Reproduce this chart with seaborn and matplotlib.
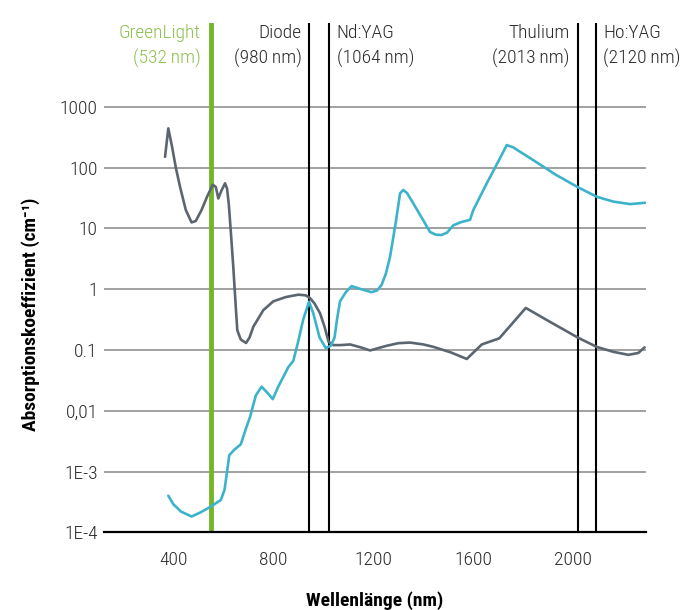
import matplotlib
matplotlib.use("Agg")
import matplotlib.pyplot as plt
import matplotlib.transforms as mtransforms
from matplotlib import font_manager
import seaborn as sns
import pandas as pd

# ---------------- data ----------------
gray_nm = [367, 380, 395, 410, 427, 450, 473, 490, 513, 535, 558, 570, 580, 593, 607,
           615, 622, 630, 640, 650, 656, 670, 691, 705, 720, 760, 800, 850, 900, 930,
           947, 965, 987, 1005, 1021, 1040, 1070, 1107, 1150, 1187, 1220, 1254, 1300,
           1347, 1400, 1441, 1510, 1574, 1634, 1704, 1810, 1900, 2020, 2094, 2160,
           2220, 2260, 2285]
gray_val = [150, 440, 220, 100, 48, 20, 12.5, 13.2, 20, 33, 52, 48, 31, 42, 55,
            45, 25, 8.9, 2.3, 0.5, 0.21, 0.148, 0.13, 0.16, 0.24, 0.45, 0.63, 0.74, 0.81, 0.79,
            0.71, 0.58, 0.40, 0.24, 0.136, 0.12, 0.12, 0.123, 0.11, 0.098, 0.107, 0.117, 0.129,
            0.132, 0.123, 0.112, 0.091, 0.071, 0.123, 0.155, 0.49, 0.30, 0.158, 0.112, 0.093,
            0.083, 0.089, 0.11]

cyan_nm = [380, 400, 430, 473, 510, 547, 590, 605, 624, 645, 670, 690, 707, 730, 753,
           775, 798, 820, 840, 860, 880, 900, 920, 943, 960, 985, 1010, 1030, 1045, 1055,
           1067, 1090, 1113, 1150, 1193, 1215, 1233, 1250, 1267, 1290, 1307, 1320, 1335,
           1360, 1400, 1427, 1450, 1473, 1495, 1520, 1550, 1587, 1600, 1654, 1700, 1734,
           1760, 1840, 1930, 2020, 2094, 2160, 2227, 2287]
cyan_val = [4.0e-4, 2.9e-4, 2.2e-4, 1.82e-4, 2.14e-4, 2.6e-4, 3.4e-4, 5.0e-4, 1.86e-3, 2.3e-3,
            2.8e-3, 5.0e-3, 7.9e-3, 0.0178, 0.0248, 0.020, 0.0155, 0.025, 0.036, 0.052,
            0.066, 0.14, 0.32, 0.62, 0.40, 0.16, 0.107, 0.117, 0.16, 0.32,
            0.63, 0.89, 1.12, 1.0, 0.89, 0.95, 1.17, 1.78, 3.4, 12.6,
            37.6, 42.7, 38, 25.7, 13.5, 8.7, 7.85, 7.76, 8.5, 11.2,
            12.6, 13.8, 20, 55, 126, 234, 214, 132, 76, 47,
            33, 27.5, 25, 26.3]

laser_names = ["GreenLight", "Diode", "Nd:YAG", "Thulium", "Ho:YAG"]
laser_labels = ["(532\u2009nm)", "(980\u2009nm)", "(1064\u2009nm)", "(2013\u2009nm)", "(2120\u2009nm)"]
laser_pos = [550, 944, 1024, 2020, 2091]

x_ticks = [400, 800, 1200, 1600, 2000]
y_ticks = [1e-4, 1e-3, 1e-2, 1e-1, 1, 10, 100, 1000]
y_tick_labels = ["1E-4", "1E-3", "0,01", "0.1", "1", "10", "100", "1000"]

# ---------------- style ----------------
sns.set_style("white")
names = {f.name for f in font_manager.fontManager.ttflist}
base = "Liberation Sans"
for cand in ["Roboto Condensed", "Barlow Semi Condensed", "Asap Condensed", "Archivo Narrow",
             "PT Sans Narrow", "Liberation Sans Narrow"]:
    if cand in names:
        base = cand
        break
plt.rcParams["font.family"] = [base, "DejaVu Sans"]
TXT = "#2a2a2a"
GREEN_LINE = "#76b52a"
GREEN_TXT = "#8dc050"
GRAY_CURVE = "#5b6670"
CYAN_CURVE = "#3cb3cb"
LIGHT = "light"

fig = plt.figure(figsize=(6.83, 6.10), dpi=100)
ax = fig.add_axes([103.7 / 683, 77.7 / 610, 542.0 / 683, 509.0 / 610])

df = pd.concat([
    pd.DataFrame({"nm": gray_nm, "val": gray_val, "s": "gray"}),
    pd.DataFrame({"nm": cyan_nm, "val": cyan_val, "s": "cyan"}),
], ignore_index=True)

sns.lineplot(data=df, x="nm", y="val", hue="s", palette={"gray": GRAY_CURVE, "cyan": CYAN_CURVE},
             sort=False, estimator=None, lw=1.9, legend=False, ax=ax, zorder=5)

ax.set_yscale("log")
ax.set_xlim(121.6, 2289.6)
ax.set_ylim(1e-4, 10 ** 4.372)

ax.set_yticks(y_ticks)
ax.set_yticklabels(y_tick_labels)
ax.minorticks_off()
ax.set_xticks(x_ticks)
ax.set_xticklabels([str(v) for v in x_ticks])
ax.tick_params(axis="y", length=0, pad=4.3, labelsize=14, labelcolor=TXT)
ax.tick_params(axis="x", length=5.2, width=1.1, color="black", direction="out", pad=8.5,
               labelsize=14, labelcolor=TXT)
for lab in ax.get_xticklabels() + ax.get_yticklabels():
    lab.set_fontweight(LIGHT)
ax.grid(axis="y", color="#9a9a9a", lw=1.3)
ax.grid(axis="x", visible=False)
ax.set_axisbelow(True)
for side in ["left", "right", "top"]:
    ax.spines[side].set_visible(False)
ax.spines["bottom"].set_color("black")
ax.spines["bottom"].set_linewidth(1.6)
ax.spines["bottom"].set_zorder(6)
ax.set_xlabel("")
ax.set_ylabel("")

# laser lines and labels
trans = mtransforms.blended_transform_factory(ax.transData, ax.transAxes)
to_px = 1 / 0.25  # nm per pixel
offsets_px = [-10.3, -7.6, 7.4, -9.0, 7.3]
for i, (name, lab, pos) in enumerate(zip(laser_names, laser_labels, laser_pos)):
    green = i == 0
    ax.axvline(pos, color=GREEN_LINE if green else "black", lw=3.5 if green else 1.5, zorder=4)
    off = offsets_px[i] * to_px
    ha = "right" if off < 0 else "left"
    col = GREEN_TXT if green else TXT
    ax.text(pos + off, 0.980, name, transform=trans, ha=ha, va="center", fontsize=14,
            color=col, fontweight=LIGHT)
    ax.text(pos + off, 0.931, lab, transform=trans, ha=ha, va="center", fontsize=14,
            color=col, fontweight=LIGHT)

fig.text(374.7 / 683, 1 - 601 / 610, "Wellenlänge (nm)", ha="center", va="center",
         fontsize=14, fontweight="bold", color="black")
fig.text(31 / 683, 1 - 314 / 610, "Absorptionskoeffizient (cm\u207B\u00B9)", rotation=90,
         ha="center", va="center", fontsize=14, fontweight="bold", color="black")

fig.savefig("out.png", dpi=100)
